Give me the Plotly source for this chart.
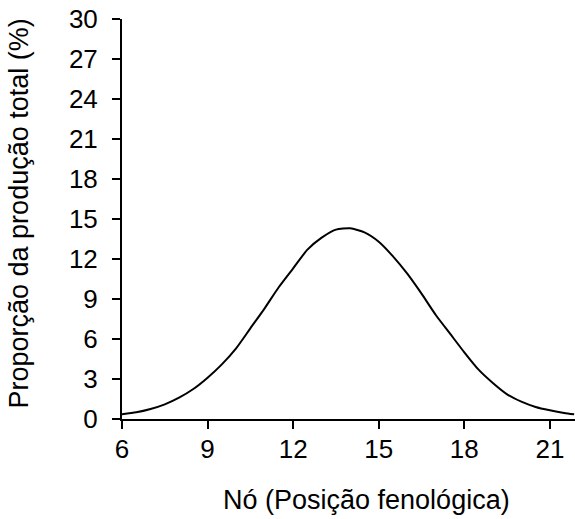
import plotly.graph_objects as go

# Data
node = [6, 6.5, 7, 7.5, 8, 8.5, 9, 9.5, 10, 10.5, 11, 11.5, 12, 12.5, 13, 13.5,
        14, 14.5, 15, 15.5, 16, 16.5, 17, 17.5, 18, 18.5, 19, 19.5, 20, 20.5,
        21, 21.5, 21.85]
proportion = [0.35, 0.5, 0.75, 1.1, 1.6, 2.25, 3.1, 4.1, 5.3, 6.8, 8.3, 9.9,
              11.3, 12.7, 13.6, 14.2, 14.3, 14.0, 13.3, 12.2, 10.9, 9.4, 7.8,
              6.4, 5.0, 3.7, 2.7, 1.85, 1.3, 0.9, 0.65, 0.45, 0.35]
x_ticks = [6, 9, 12, 15, 18, 21]
y_ticks = [0, 3, 6, 9, 12, 15, 18, 21, 24, 27, 30]

x_title = "Nó (Posição fenológica)"
y_title = "Proporção da produção total (%)"

FONT = "Liberation Sans, Arial, Helvetica, sans-serif"

fig = go.Figure()
fig.add_trace(go.Scatter(
    x=node, y=proportion, mode="lines",
    line=dict(color="black", width=2, shape="spline", smoothing=0.6),
    hoverinfo="x+y", showlegend=False,
))

W, H = 575, 519
ml, mr, mt, mb = 122, 0, 19, 100
pw, ph = W - ml - mr, H - mt - mb


def px_x(px):
    return (px - ml) / pw


def px_y(py):
    return (H - mb - py) / ph


fig.update_layout(
    width=W, height=H,
    margin=dict(l=ml, r=mr, t=mt, b=mb, autoexpand=False),
    paper_bgcolor="white", plot_bgcolor="white",
    font=dict(family=FONT, size=26, color="black"),
    showlegend=False,
    xaxis=dict(
        range=[6, 21.88], tickmode="array", tickvals=x_ticks,
        ticktext=[str(v) for v in x_ticks],
        showgrid=False, zeroline=False, showline=True, linecolor="black",
        linewidth=2, ticks="outside", ticklen=8, tickwidth=2, tickcolor="black",
        ticklabelstandoff=-2, tickfont=dict(size=26), ticklabeloverflow="allow",
    ),
    yaxis=dict(
        range=[0, 30], tickmode="array", tickvals=y_ticks,
        ticktext=[str(v) for v in y_ticks],
        showgrid=False, zeroline=False, showline=True, linecolor="black",
        linewidth=2, ticks="outside", ticklen=8, tickwidth=2, tickcolor="black",
        ticklabelstandoff=9, tickfont=dict(size=26), ticklabeloverflow="allow",
    ),
    annotations=[
        dict(text=x_title, xref="paper", yref="paper",
             x=px_x(366.5), y=px_y(500),
             xanchor="center", yanchor="middle", showarrow=False,
             font=dict(size=27, family=FONT, color="black")),
        dict(text=y_title, xref="paper", yref="paper",
             x=px_x(18.5), y=px_y(214), textangle=-90,
             xanchor="center", yanchor="middle", showarrow=False,
             font=dict(size=27, family=FONT, color="black")),
    ],
)

# remove the default page margin so the figure fills the window exactly
fig.write_html(
    "out.html",
    config={"displayModeBar": False},
    post_script="document.body.style.margin='0';document.body.style.overflow='hidden';",
)
